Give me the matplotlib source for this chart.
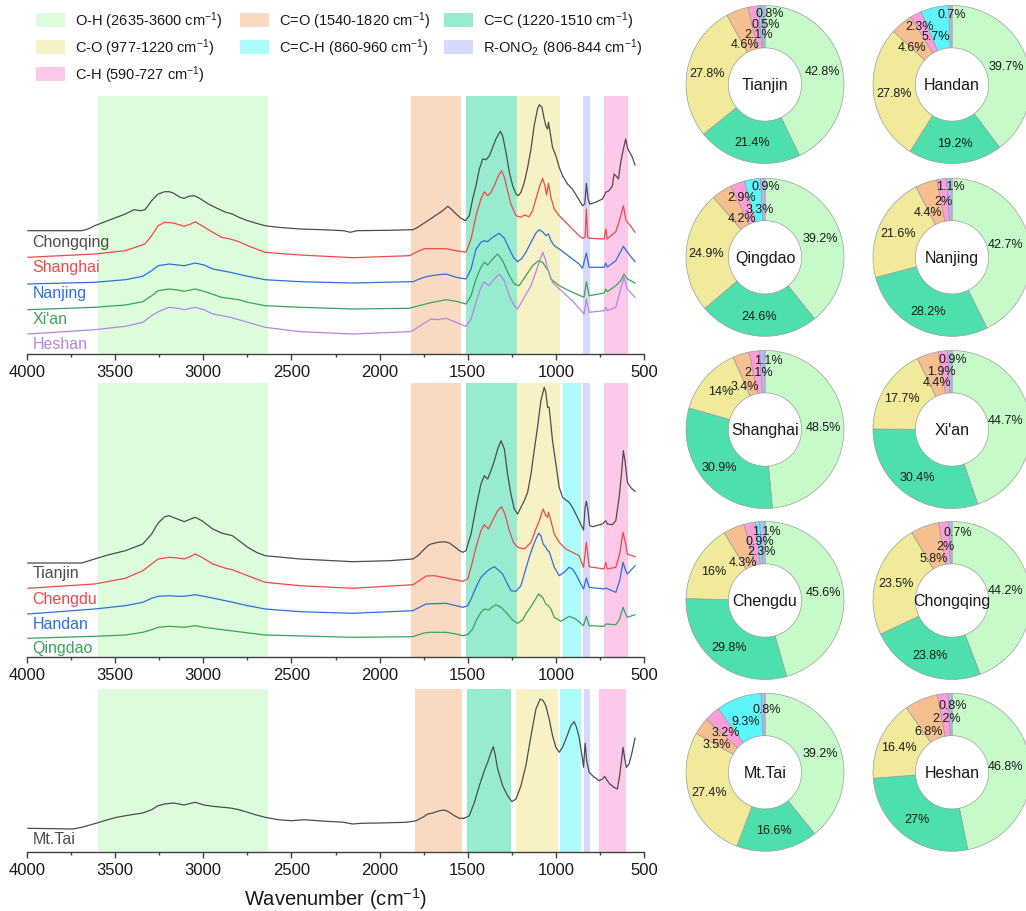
import matplotlib
matplotlib.use("Agg")
import matplotlib.pyplot as plt
from matplotlib.patches import Rectangle
from matplotlib.ticker import MultipleLocator
import numpy as np

plt.rcParams['font.family'] = ['Liberation Sans', 'DejaVu Sans']
plt.rcParams['mathtext.fontset'] = 'custom'
plt.rcParams['mathtext.rm'] = 'Liberation Sans'
plt.rcParams['mathtext.it'] = 'Liberation Sans:italic'
plt.rcParams['mathtext.bf'] = 'Liberation Sans:bold'

# ---------------- FTIR spectra (wavenumber in cm-1, absorbance in offset units) ----------------
chongqing_wn = [3995, 3740, 3690, 3653, 3616, 3566, 3517, 3442, 3393, 3355, 3331, 3293, 3256, 3219, 3194, 3170,
                3132, 3108, 3083, 3051, 3021, 2971, 2922, 2872, 2835, 2798, 2748, 2699, 2649, 2575, 2451, 2327,
                2203, 2166, 2128, 1955,
                1811, 1783, 1755, 1726, 1698, 1670, 1642, 1613, 1594, 1566, 1538, 1513, 1491, 1472, 1453, 1434,
                1415, 1396, 1377, 1358, 1340, 1315, 1302, 1283, 1264, 1245, 1226, 1213, 1198, 1179, 1160, 1141,
                1123, 1104, 1094, 1079, 1066, 1057, 1047, 1042, 1034, 1019, 1000, 981, 962, 934, 906, 877, 849,
                836, 827, 817, 808, 774, 736, 726, 717, 698, 679, 670, 657, 645, 632, 617, 604, 592, 581, 566, 551]
chongqing_ab = [123.3, 123.3, 123.3, 125, 128.3, 131.7, 135, 140, 144.3, 143.3, 144.3, 153.3, 160, 162.3, 162.3, 161,
                156.7, 155.7, 157.7, 158.3, 155.7, 150, 145.7, 141.7, 140, 136.7, 133.3, 130.7, 128.3, 126.7, 125,
                124.3, 123.3, 121.7, 123.3, 123.7,
                124.3, 126.7, 130, 133.3, 136.7, 140, 143.3, 147.7, 145, 140, 135.7, 133.3, 138.3, 155, 168.3, 185,
                195, 194.3, 198.3, 206.7, 215, 222.7, 218.3, 201.7, 181.7, 168.3, 160, 158.3, 161.7, 171.7, 186.7, 205,
                228.3, 245, 249.3, 246.7, 235, 228.3, 225, 231.7, 223.3, 206.7, 198.3, 186.7, 178.3, 170, 165, 156.7,
                148.3, 150, 170.7, 155, 150, 151.7, 155, 158.3, 161.7, 163.3, 168.3, 180, 177.7, 175, 191.7, 205, 215,
                205, 201.7, 196.7, 189]

shanghai_wn = [3995, 3616, 3442, 3331, 3293, 3256, 3219, 3170, 3108, 3071, 3046, 3008, 2946, 2897, 2847, 2798,
               2748, 2649, 2451, 2153, 1831,
               1811, 1774, 1745, 1679, 1623, 1566, 1510, 1481, 1453, 1425, 1406, 1387, 1368, 1349, 1330, 1308,
               1292, 1274, 1255, 1226, 1198, 1179, 1151, 1132, 1113, 1094, 1075, 1062, 1053, 1042, 1028, 1009,
               981, 943, 906, 868, 849, 834, 827, 819, 811, 726, 717, 709, 660, 642, 617, 604, 594, 577, 551]
shanghai_ab = [96.7, 100, 103.3, 110, 118.3, 128.3, 131.7, 131, 127.7, 130, 132.3, 128.3, 121.7, 116.7, 115, 112.3,
               108.3, 101.7, 99, 96.3, 98.3,
               100, 103.3, 105.3, 105.3, 105.3, 103.3, 101.7, 115, 138.3, 155, 162.3, 158.3, 161.7, 168.3, 176.7,
               183.3, 176.7, 163.3, 150, 138.3, 136.7, 139, 137.3, 143.3, 155, 166.7, 175.7, 168.3, 159, 170.7,
               156.7, 145, 138.3, 131.7, 125, 118.3, 115.7, 116.7, 145, 116.7, 115.7, 115, 125, 115, 122.3, 131.7,
               148.3, 135, 131.7, 128.3, 121.7]

nanjing_wn = [3995, 3616, 3442, 3343, 3293, 3256, 3194, 3145, 3108, 3046, 2996, 2946, 2847, 2748, 2649, 2451,
              2153, 1831,
              1811, 1774, 1736, 1679, 1623, 1566, 1510, 1481, 1453, 1425, 1406, 1387, 1359, 1321, 1292, 1264,
              1241, 1217, 1192, 1170, 1141, 1113, 1094, 1072, 1057, 1042, 1028, 1009, 981, 943, 906, 868, 849,
              827, 811, 726, 717, 708, 660, 617, 594, 551]
nanjing_ab = [70, 71.7, 74.3, 77.7, 83.3, 88.3, 90, 89, 88.3, 91, 89, 85, 81.7, 77.7, 74.3, 72.3, 71, 72.3,
              72.3, 75, 77.3, 79, 80, 76.7, 75, 85, 105, 111.7, 113.3, 112.3, 116.7, 120.7, 115.7, 105, 96.7,
              92.3, 95.7, 101.7, 111.7, 121, 124.3, 121.7, 118.3, 120, 113.3, 108.3, 105, 100, 95, 90, 85.7, 101,
              86.7, 86.7, 91, 87, 93.3, 107.7, 101.7, 92.3]

xian_wn = [3995, 3616, 3442, 3343, 3293, 3256, 3194, 3145, 3108, 3046, 2996, 2897, 2798, 2748, 2649, 2451,
           2153, 1831,
           1811, 1717, 1623, 1566, 1510, 1481, 1453, 1425, 1406, 1387, 1359, 1330, 1302, 1264, 1236, 1208, 1170,
           1132, 1098, 1075, 1057, 1042, 1028, 981, 906, 840, 827, 811, 726, 717, 708, 660, 632, 613, 594, 551]
xian_ab = [44.3, 46.7, 49, 52.3, 58.3, 63.3, 65, 64, 62.7, 65, 62.7, 56.7, 54.3, 51.7, 48.3, 46.7, 45, 45.7,
           46.7, 51, 54.3, 52.7, 50, 58.3, 75, 86.7, 91.7, 89, 95, 100, 93.3, 78.3, 70, 68.3, 78.3, 88.3, 93.3,
           91.7, 86.7, 83.3, 75, 68.3, 61.7, 56.7, 72.3, 58.3, 61, 65, 62.3, 68.3, 73.3, 80, 75, 71]

heshan_wn = [3995, 3616, 3442, 3343, 3293, 3256, 3194, 3145, 3108, 3046, 2996, 2946, 2847, 2748, 2649, 2451,
             2153, 1831,
             1811, 1755, 1708, 1670, 1623, 1566, 1510, 1481, 1453, 1425, 1406, 1381, 1349, 1321, 1292, 1264,
             1236, 1217, 1179, 1141, 1104, 1075, 1060, 1047, 1019, 981, 906, 840, 827, 811, 726, 717, 708, 660,
             632, 613, 594, 551]
heshan_ab = [20, 24.3, 27.7, 31.7, 38.3, 42.3, 46.7, 45.7, 44.3, 46.7, 44.3, 40, 36.7, 31.7, 26.7, 22.3, 20, 22.3,
             23.3, 30, 35, 34.3, 35.7, 31.7, 27.7, 35, 51.7, 66.7, 72.3, 68.3, 75, 80, 73.3, 58.3, 48.3, 45, 56.7,
             68.3, 86.7, 101.7, 95, 85, 71.7, 65, 53.3, 40, 55, 41.7, 43.3, 46.7, 43.3, 46.7, 65, 76.7, 65, 56.7]

tianjin_wn = [3995, 3690, 3616, 3542, 3442, 3343, 3293, 3256, 3219, 3194, 3157, 3108, 3071, 3046, 3008, 2946,
              2897, 2835, 2785, 2748, 2699, 2649, 2451, 2153, 1944,
              1811, 1783, 1755, 1726, 1708, 1670, 1632, 1604, 1575, 1547, 1528, 1510, 1481, 1453, 1425, 1406,
              1387, 1368, 1349, 1330, 1311, 1292, 1274, 1255, 1236, 1217, 1198, 1179, 1160, 1141, 1123, 1104,
              1085, 1066, 1057, 1047, 1038, 1019, 1000, 981, 962, 943, 925, 906, 887, 868, 843, 834, 827, 819,
              808, 792, 736, 717, 708, 679, 660, 641, 628, 617, 608, 594, 577, 551]
tianjin_ab = [94, 94, 98, 102, 106.3, 113, 123, 134, 140.3, 141.3, 138.7, 135.3, 138, 139.7, 136.3, 128,
              124, 121.3, 114.7, 109.7, 104.7, 101.3, 98, 95.3, 96.3,
              98, 101.3, 106.3, 111.3, 113, 114.7, 115.3, 114, 110.3, 106.3, 104.7, 106.3, 123, 149.7, 173, 181.3,
              178, 186.3, 196.3, 208, 216.3, 208, 183, 163, 148, 143, 149.7, 156.3, 164.7, 183, 206.3, 229.7,
              256.3, 269.7, 264.7, 249.7, 249.7, 216.3, 193, 169.7, 159.7, 157, 154.7, 149.7, 143, 136.3, 127,
              149.7, 155.7, 148, 131.3, 130.3, 133, 136.3, 133, 132.3, 136.3, 159.7, 183, 206.3, 196.3, 174.7,
              169.7, 165.7]

chengdu_wn = [3995, 3616, 3442, 3343, 3293, 3256, 3194, 3145, 3108, 3071, 3046, 3008, 2946, 2872, 2835, 2748,
              2649, 2451, 2153,
              1811, 1774, 1736, 1689, 1623, 1566, 1528, 1500, 1481, 1453, 1425, 1406, 1383, 1359, 1330, 1308,
              1289, 1264, 1241, 1217, 1179, 1141, 1113, 1094, 1072, 1057, 1047, 1042, 1028, 1009, 981, 943, 906,
              868, 843, 827, 811, 726, 717, 708, 660, 638, 619, 604, 594, 551]
chengdu_ab = [68.7, 73, 78.7, 86.3, 93, 98, 99.7, 99, 98, 100.7, 103, 99.7, 93, 88.7, 87.3, 81.3,
              74.7, 71.3, 68.7,
              72.3, 76.3, 81, 81.3, 79, 77, 75.7, 78, 89.7, 109.7, 126.3, 132.3, 128, 136.3, 146.3, 150.3, 143,
              126.3, 114.7, 109.7, 108, 114.7, 128, 136.3, 148, 141.3, 139.7, 144.7, 136.3, 123, 114.7, 108, 104.7,
              101.3, 89.7, 114.7, 90.3, 88, 94.7, 88, 89.7, 103, 124.7, 113, 103, 100.3]

handan_wn = [3995, 3616, 3442, 3343, 3293, 3256, 3194, 3145, 3108, 3046, 2996, 2847, 2748, 2649, 2451, 2153,
             1811, 1774, 1736, 1623, 1566, 1528, 1500, 1481, 1453, 1425, 1396, 1374, 1349, 1321, 1302, 1274,
             1255, 1226, 1198, 1179, 1151, 1132, 1113, 1098, 1085, 1072, 1057, 1047, 1038, 1009, 981, 953, 925,
             906, 887, 868, 843, 827, 811, 726, 717, 660, 638, 619, 604, 594, 577, 551]
handan_ab = [43, 48, 51.3, 54.7, 58.7, 60.7, 61.3, 60.7, 60.7, 62.3, 60.7, 55.3, 51.3, 48, 45.3, 43.7,
             46.3, 49.7, 53, 53.7, 51.3, 49.7, 51.3, 58, 69.7, 79.7, 84.7, 88, 90.3, 86.3, 83, 73,
             66.3, 65.7, 71.3, 83, 99.7, 109.7, 118, 123.7, 121.3, 113, 109.7, 106.3, 105.7, 89.7, 81.3, 84.7, 89.7,
             88, 83, 76.3, 68, 79, 69.7, 68, 69, 64.7, 76.3, 94.7, 86.3, 83, 86.3, 91.3]

qingdao_wn = [3995, 3616, 3442, 3343, 3293, 3256, 3194, 3108, 3046, 2996, 2847, 2649, 2153,
              1811, 1755, 1717, 1623, 1566, 1528, 1500, 1472, 1453, 1425, 1406, 1381, 1359, 1340, 1311, 1283,
              1245, 1217, 1189, 1170, 1132, 1098, 1075, 1057, 1042, 1028, 1009, 972, 925, 887, 843, 827, 811,
              726, 717, 660, 638, 619, 604, 594, 551]
qingdao_ab = [18.7, 20.7, 22, 24.7, 27.3, 29.7, 30.7, 29.7, 31.3, 29.7, 26.3, 22, 19.7,
              20.3, 23.7, 24.7, 24.7, 23, 21.3, 22.3, 28, 36.3, 44.7, 48, 47, 50.3, 52.3, 49.7, 44.7,
              37, 33.7, 37, 43, 53, 63, 59.7, 53, 51.3, 48, 39.7, 35.7, 40.7, 38, 31.3, 40.7, 31.3,
              30.7, 33, 32.3, 38, 49.7, 43, 39.7, 42.3]

mttai_wn = [3995, 3740, 3690, 3603, 3542, 3492, 3417, 3343, 3293, 3256, 3219, 3170, 3108, 3071, 3046, 2996,
            2946, 2847, 2798, 2748, 2699, 2649, 2575, 2500, 2426, 2327, 2203, 2153, 2104, 2004, 1849,
            1792, 1755, 1726, 1698, 1660, 1632, 1604, 1575, 1547, 1519, 1491, 1462, 1434, 1406, 1387, 1368,
            1355, 1345, 1330, 1302, 1274, 1249, 1226, 1198, 1170, 1141, 1113, 1089, 1072, 1057, 1038, 1019,
            1000, 981, 962, 943, 915, 896, 883, 868, 849, 843, 834, 825, 811, 792, 755, 736, 723, 708, 694,
            670, 651, 638, 619, 609, 600, 585, 570, 551]
mttai_ab = [23.7, 23, 24.7, 29, 32.3, 34.7, 37, 39, 42.3, 46.3, 48, 49, 47, 48.7, 49.7, 47,
            45.7, 44, 42.3, 39.7, 37, 34.7, 32.3, 31.3, 32.3, 31, 29.7, 28, 28.7, 29, 29.7,
            31.3, 34.7, 38, 39, 41.3, 42, 39.7, 36.3, 33.7, 33.7, 36.3, 49.7, 66.3, 81.3, 89.7, 99.7,
            105.3, 98, 83, 66.3, 56.3, 50.3, 53, 66.3, 86.3, 116.3, 143, 153, 151.3, 146.3, 133, 116.3,
            104.7, 99.7, 104.7, 113, 126.3, 130.3, 124.7, 114.7, 93, 84.7, 108.7, 91.3, 79.7, 76.3, 71.3, 73,
            75.7, 71.3, 68, 64.7, 63, 76.3, 104.7, 93, 84.7, 88, 98, 113.7]

# ---------------- functional-group bands (cm-1) ----------------
band_names = ['O-H', 'C=O', 'C=C', 'C-O', 'C=C-H', 'R-ONO2', 'C-H']
band_low = [2635, 1540, 1220, 977, 860, 806, 590]
band_high = [3600, 1820, 1510, 1220, 960, 844, 727]
band_low_mttai = [2635, 1535, 1255, 990, 855, 806, 600]
band_high_mttai = [3600, 1800, 1505, 1225, 977, 843, 758]
band_colors = {'O-H': '#dcfcdc', 'C=O': '#f9d9c0', 'C=C': '#97ecd0', 'C-O': '#f7f2c5',
               'C=C-H': '#adfcfc', 'R-ONO2': '#d5d9fb', 'C-H': '#fdc8ea'}
legend_labels = ['O-H (2635-3600 cm$^{-1}$)', 'C=O (1540-1820 cm$^{-1}$)', 'C=C (1220-1510 cm$^{-1}$)',
                 'C-O (977-1220 cm$^{-1}$)', 'C=C-H (860-960 cm$^{-1}$)', 'R-ONO$_2$ (806-844 cm$^{-1}$)',
                 'C-H (590-727 cm$^{-1}$)']

# ---------------- relative abundance of functional groups (%) ----------------
sites = ['Tianjin', 'Handan', 'Qingdao', 'Nanjing', 'Shanghai', "Xi'an", 'Chengdu', 'Chongqing', 'Mt.Tai', 'Heshan']
pct_oh = [42.8, 39.7, 39.2, 42.7, 48.5, 44.7, 45.6, 44.2, 39.2, 46.8]
pct_cc = [21.4, 19.2, 24.6, 28.2, 30.9, 30.4, 29.8, 23.8, 16.6, 27]
pct_co = [27.8, 27.8, 24.9, 21.6, 14, 17.7, 16, 23.5, 27.4, 16.4]
pct_c_o = [4.6, 4.6, 4.2, 4.4, 3.4, 4.4, 4.3, 5.8, 3.5, 6.8]
pct_ch = [2.1, 2.3, 2.9, 2, 2.1, 1.9, 2.3, 2, 3.2, 2.2]
pct_cch = [0.5, 5.7, 3.3, 0, 0, 0, 0.9, 0, 9.3, 0]
pct_ono2 = [0.8, 0.7, 0.9, 1.1, 1.1, 0.9, 1.1, 0.7, 0.8, 0.8]

pie_groups = ['O-H', 'C=C', 'C-O', 'C=O', 'C-H', 'C=C-H', 'R-ONO2']
pie_colors = {'O-H': '#c6fbc9', 'C=C': '#4ddfac', 'C-O': '#f1ea9b', 'C=O': '#f6bf90',
              'C-H': '#fc9fd9', 'C=C-H': '#5cf6fa', 'R-ONO2': '#b6b8f6'}

# label offsets (px from donut centre, y up) for the narrow slices
small_label_pos = {
    'Tianjin': {'C=O': (-20, 40.5), 'C-H': (-6.7, 50.5), 'C=C-H': (1, 60.5), 'R-ONO2': (5, 71.5)},
    'Handan': {'C=O': (-39.7, 37.2), 'C-H': (-32, 58.8), 'C=C-H': (-16, 48.8), 'R-ONO2': (-0.3, 70.5)},
    'Qingdao': {'C=O': (-23.3, 39), 'C-H': (-23.3, 60), 'C=C-H': (-5, 48.3), 'R-ONO2': (1, 71.6)},
    'Nanjing': {'C=O': (-23.7, 45), 'C-H': (-8.7, 56.6), 'R-ONO2': (-1.3, 71.6)},
    'Shanghai': {'C=O': (-20, 43.8), 'C-H': (-6.7, 57.2), 'R-ONO2': (3.3, 69.8)},
    "Xi'an": {'C=O': (-15.3, 47.2), 'C-H': (-10.3, 58.2), 'R-ONO2': (1.3, 70.5)},
    'Chengdu': {'C=O': (-21.7, 38.8), 'C-H': (-3.3, 49.8), 'C=C-H': (-5, 59.8), 'R-ONO2': (1.7, 69.8)},
    'Chongqing': {'C=O': (-18.7, 42.2), 'C-H': (-7, 54.8), 'R-ONO2': (6.3, 68.8)},
    'Mt.Tai': {'C=O': (-48.3, 28.3), 'C-H': (-39, 40.6), 'C=C-H': (-19, 51.6), 'R-ONO2': (1.7, 63.3)},
    'Heshan': {'C=O': (-23.7, 41.6), 'C-H': (-5.3, 54), 'R-ONO2': (0.7, 67.3)},
}

GRAY, RED, BLUE, GREEN, PURPLE = '#4d4d4d', '#f04848', '#2f6fdc', '#3aa35c', '#b585e5'

W, H = 1026, 912
fig = plt.figure(figsize=(W / 100, H / 100), dpi=100)


def px_axes(x0, y0, x1, y1):
    return fig.add_axes([x0 / W, 1 - y1 / H, (x1 - x0) / W, (y1 - y0) / H])


def spectrum_panel(y_top, y_bot, series, bands_idx, lows, highs):
    ax = px_axes(27, y_top, 644, y_bot)
    ax.set_xlim(4000, 500)
    ax.set_ylim(0, y_bot - y_top)
    for i in bands_idx:
        ax.axvspan(lows[i], highs[i], color=band_colors[band_names[i]], lw=0, zorder=0)
    for name, wn, ab, col, ly in series:
        ax.plot(wn, ab, color=col, lw=0.9, zorder=3, solid_joinstyle='round')
        ax.text(3970, ly, name, color=col, fontsize=11.5, ha='left', va='center', zorder=4)
    for s in ('left', 'right', 'top'):
        ax.spines[s].set_visible(False)
    ax.spines['bottom'].set_color('#404040')
    ax.spines['bottom'].set_linewidth(1.0)
    ax.set_yticks([])
    ax.xaxis.set_major_locator(MultipleLocator(500))
    ax.xaxis.set_minor_locator(MultipleLocator(250))
    ax.tick_params(axis='x', which='major', direction='out', length=4, width=1, color='#404040',
                   labelsize=12, pad=3, labelcolor='#1a1a1a')
    ax.tick_params(axis='x', which='minor', direction='out', length=2, width=1, color='#404040')
    return ax


spectrum_panel(97, 355, [
    ('Chongqing', chongqing_wn, chongqing_ab, GRAY, 112.3),
    ('Shanghai', shanghai_wn, shanghai_ab, RED, 87.3),
    ('Nanjing', nanjing_wn, nanjing_ab, BLUE, 61.7),
    ("Xi'an", xian_wn, xian_ab, GREEN, 35.7),
    ('Heshan', heshan_wn, heshan_ab, PURPLE, 10),
], [0, 1, 2, 3, 5, 6], band_low, band_high)

spectrum_panel(384, 658, [
    ('Tianjin', tianjin_wn, tianjin_ab, GRAY, 84.7),
    ('Chengdu', chengdu_wn, chengdu_ab, RED, 58.7),
    ('Handan', handan_wn, handan_ab, BLUE, 33),
    ('Qingdao', qingdao_wn, qingdao_ab, GREEN, 9.7),
], [0, 1, 2, 3, 4, 5, 6], band_low, band_high)

spectrum_panel(690, 853, [
    ('Mt.Tai', mttai_wn, mttai_ab, GRAY, 13),
], [0, 1, 2, 3, 4, 5, 6], band_low_mttai, band_high_mttai)

fig.text(335.5 / W, 1 - 899 / H, 'Wavenumber (cm$^{-1}$)', fontsize=14.5, ha='center', va='center',
         color='#1a1a1a')

# legend of the shaded bands
col_patch_x = [36, 240, 444]
col_text_x = [75, 279, 483]
row_y = [21, 48, 75]
for k, name in enumerate(band_names):
    r, c = divmod(k, 3)
    fig.add_artist(Rectangle((col_patch_x[c] / W, 1 - (row_y[r] + 7) / H), 29 / W, 14 / H,
                             transform=fig.transFigure, facecolor=band_colors[name], edgecolor='none'))
    fig.text(col_text_x[c] / W, 1 - row_y[r] / H, legend_labels[k], fontsize=10.5, ha='left',
             va='center', color='#1a1a1a')

# donut charts of functional-group fractions
R = 79
col_cx = [765, 952]
row_cy = [85.5, 258.3, 430.5, 601.5, 773.3]
inner_ratio = 0.464
for s, site in enumerate(sites):
    cx = col_cx[s % 2]
    cy = row_cy[s // 2]
    ax = px_axes(cx - R, cy - R, cx + R, cy + R)
    vals = dict(zip(pie_groups, [pct_oh[s], pct_cc[s], pct_co[s], pct_c_o[s], pct_ch[s], pct_cch[s],
                                 pct_ono2[s]]))
    groups = [g for g in pie_groups if vals[g] > 0]
    sizes = [vals[g] for g in groups]
    wedges, _ = ax.pie(sizes, colors=[pie_colors[g] for g in groups], startangle=90, counterclock=False,
                       radius=1, wedgeprops=dict(width=1 - inner_ratio, edgecolor='#9c9c9c', linewidth=0.5))
    ax.set_xlim(-1, 1)
    ax.set_ylim(-1, 1)
    ax.set_aspect('equal')
    ax.axis('off')
    for w in wedges:
        w.set_clip_on(False)
    # keep the value labels inside the right edge of the figure
    x_max = (W - 2 - cx) / R - 0.23
    total = sum(sizes)
    cum = 0
    for g, v in zip(groups, sizes):
        mid = cum + v / 2
        cum += v
        if g in small_label_pos[site]:
            dx, dy = small_label_pos[site][g]
            tx, ty = dx / R, dy / R
        else:
            ang = np.deg2rad(90 - 360 * mid / total)
            tx, ty = 0.745 * np.cos(ang), 0.745 * np.sin(ang)
        tx = min(tx, x_max)
        ax.text(tx, ty, f'{v:g}%', fontsize=9, ha='center', va='center', color='#1a1a1a', clip_on=False)
    ax.text(0, 0, site, fontsize=11.5, ha='center', va='center', color='#1a1a1a')

fig.savefig('out.png', dpi=100)
